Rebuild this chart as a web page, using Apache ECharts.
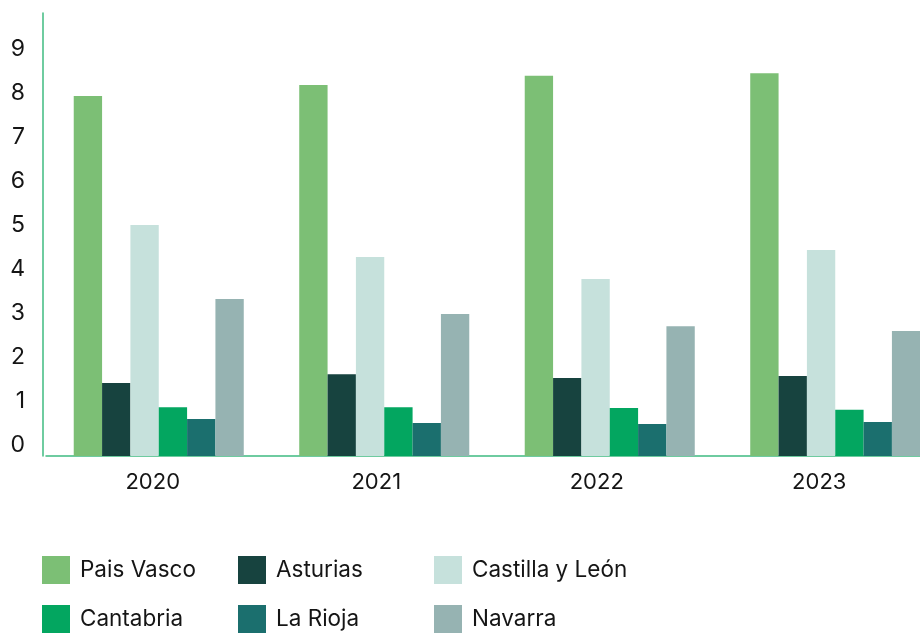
<!DOCTYPE html>
<html>
<head>
<meta charset="utf-8">
<script src="https://cdn.jsdelivr.net/npm/echarts@6/dist/echarts.min.js"></script>
<style>
  html, body { margin: 0; padding: 0; background: #ffffff; }
  #chart { width: 920px; height: 633px; }
</style>
</head>
<body>
<div id="chart"></div>
<script>
// Years on the category axis
const years = ['2020', '2021', '2022', '2023'];

// One value per year for each region
const paisVasco    = [8.18, 8.43, 8.64, 8.70];
const asturias     = [1.66, 1.86, 1.77, 1.82];
const castillaLeon = [5.25, 4.52, 4.02, 4.68];
const cantabria    = [1.11, 1.11, 1.09, 1.05];
const laRioja      = [0.84, 0.75, 0.73, 0.77];
const navarra      = [3.57, 3.23, 2.95, 2.84];

// Value-axis labels that are printed
const yTickLabels = [0, 1, 2, 3, 4, 5, 6, 7, 8, 9];

const regions = [
  { name: 'Pais Vasco',       data: paisVasco,    color: '#7cbf75' },
  { name: 'Asturias',         data: asturias,     color: '#17433f' },
  { name: 'Castilla y León',  data: castillaLeon, color: '#c6e1dc' },
  { name: 'Cantabria',        data: cantabria,    color: '#03a660' },
  { name: 'La Rioja',         data: laRioja,      color: '#1b6f6e' },
  { name: 'Navarra',          data: navarra,      color: '#96b3b2' }
];

const FONT = 'Inter, "Noto Sans", sans-serif';
const axisGreen = '#3fbb81';

// small per-year nudges of the year labels (right padding, px)
const yearShift = [12, 16, 26, 32];
const yearRich = {};
yearShift.forEach((p, i) => {
  yearRich['y' + i] = { fontFamily: FONT, fontSize: 22, color: '#151515', padding: [0, p, 0, 0] };
});

const legendBase = {
  orient: 'vertical',
  top: 556,
  padding: 0,
  icon: 'rect',
  itemWidth: 28,
  itemHeight: 28,
  itemGap: 21,
  selectedMode: false,
  textStyle: { fontFamily: FONT, fontSize: 22.5, color: '#151515', padding: [0, 0, 0, 5] }
};

const chart = echarts.init(document.getElementById('chart'), null, { renderer: 'canvas' });

chart.setOption({
  animation: false,
  backgroundColor: '#ffffff',
  // the last year's group runs past the right edge of the page
  grid: { left: 46, width: 902, top: 13, height: 443, containLabel: false, outerBoundsMode: 'none' },
  legend: [
    Object.assign({}, legendBase, { left: 42,  data: ['Pais Vasco', 'Cantabria'] }),
    Object.assign({}, legendBase, { left: 238, data: ['Asturias', 'La Rioja'] }),
    Object.assign({}, legendBase, { left: 434, data: ['Castilla y León', 'Navarra'] })
  ],
  xAxis: {
    type: 'category',
    data: years,
    axisLine: { show: true, lineStyle: { color: axisGreen, width: 1.5 } },
    axisTick: { show: false },
    axisLabel: {
      margin: 15,
      formatter: (v, i) => '{y' + i + '|' + v + '}',
      rich: yearRich
    },
    splitLine: { show: false }
  },
  yAxis: {
    type: 'value',
    min: 0,
    max: 443 / 44,
    interval: 1,
    offset: 3,
    axisLine: { show: true, lineStyle: { color: axisGreen, width: 1.5 } },
    axisTick: { show: false },
    splitLine: { show: false },
    axisLabel: {
      margin: 18,
      fontFamily: FONT,
      fontSize: 23,
      color: '#151515',
      verticalAlign: 'bottom',
      lineHeight: 22,
      showMaxLabel: false,
      formatter: v => (yTickLabels.indexOf(v) >= 0 ? String(v) : '')
    }
  },
  series: regions.map(r => ({
    name: r.name,
    type: 'bar',
    data: r.data,
    barGap: '0%',
    barCategoryGap: '24.6%',
    itemStyle: { color: r.color },
    emphasis: { disabled: true }
  }))
});
</script>
</body>
</html>
